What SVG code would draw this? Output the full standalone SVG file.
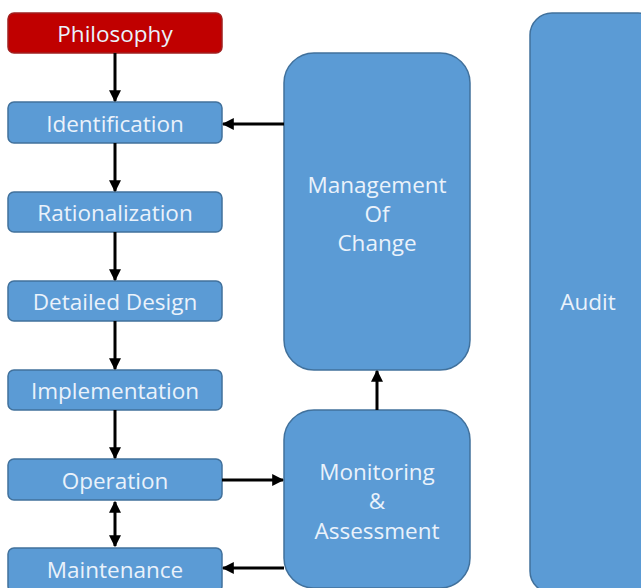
<svg xmlns="http://www.w3.org/2000/svg" width="641" height="588" viewBox="0 0 641 588">
<defs>
<marker id="ah" viewBox="0 0 10 10" refX="9" refY="5" markerWidth="4" markerHeight="4" orient="auto-start-reverse" markerUnits="strokeWidth">
<path d="M0,0 L10,5 L0,10 z" fill="#000"/>
</marker>
<style>
.b{fill:#5b9bd5;stroke:#41719c;stroke-width:1.5}
.r{fill:#c00000;stroke:#a02020;stroke-width:1.5}
.t{font-family:"Open Sans","Noto Sans",sans-serif;font-size:22.5px;fill:#eaf2fb;text-anchor:middle;dominant-baseline:central}
.c{stroke:#000;stroke-width:3;fill:none;marker-end:url(#ah)}
</style>
</defs>
<rect width="641" height="588" fill="#fff"/>
<g id="philosophy"><rect class="r" x="8" y="13" width="214" height="40" rx="6"/><text class="t" x="115" y="33">Philosophy</text></g>
<g id="identification"><rect class="b" x="8" y="102" width="214" height="41" rx="6"/><text class="t" x="115" y="123">Identification</text></g>
<g id="rationalization"><rect class="b" x="8" y="192" width="214" height="40" rx="6"/><text class="t" x="115" y="212">Rationalization</text></g>
<g id="detailed-design"><rect class="b" x="8" y="281" width="214" height="40" rx="6"/><text class="t" x="115" y="301">Detailed Design</text></g>
<g id="implementation"><rect class="b" x="8" y="370" width="214" height="40" rx="6"/><text class="t" x="115" y="390">Implementation</text></g>
<g id="operation"><rect class="b" x="8" y="459" width="214" height="41" rx="6"/><text class="t" x="115" y="480">Operation</text></g>
<g id="maintenance"><rect class="b" x="8" y="548" width="214" height="44" rx="6"/><text class="t" x="115" y="569">Maintenance</text></g>
<g id="management-of-change"><rect class="b" x="284" y="53" width="186" height="317" rx="30"/><text class="t" x="377" y="184">Management</text><text class="t" x="377" y="213">Of</text><text class="t" x="377" y="242">Change</text></g>
<g id="monitoring"><rect class="b" x="284" y="410" width="186" height="178" rx="30"/><text class="t" x="377" y="471">Monitoring</text><text class="t" x="377" y="500">&amp;</text><text class="t" x="377" y="530">Assessment</text></g>
<g id="audit"><rect class="b" x="530" y="13" width="130" height="580" rx="22"/><text class="t" x="588" y="301">Audit</text></g>
<g id="connectors">
<line class="c" x1="115" y1="53" x2="115" y2="101"/>
<line class="c" x1="115" y1="143" x2="115" y2="191"/>
<line class="c" x1="115" y1="232" x2="115" y2="280"/>
<line class="c" x1="115" y1="321" x2="115" y2="369"/>
<line class="c" x1="115" y1="410" x2="115" y2="458"/>
<line class="c" x1="115" y1="502" x2="115" y2="546" style="marker-start:url(#ah)"/>
<line class="c" x1="284" y1="124" x2="223" y2="124"/>
<line class="c" x1="222" y1="480" x2="283" y2="480"/>
<line class="c" x1="284" y1="568" x2="223" y2="568"/>
<line class="c" x1="377" y1="410" x2="377" y2="371"/>
</g>
</svg>
